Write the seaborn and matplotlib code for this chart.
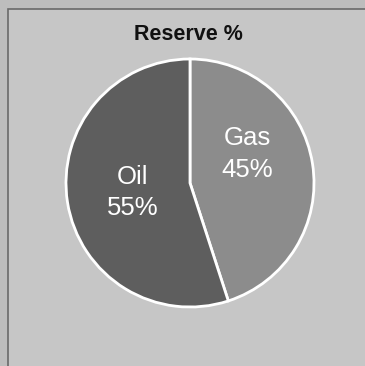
import numpy as np
import seaborn as sns
import matplotlib.pyplot as plt
from matplotlib.patches import Rectangle

labels = ["Gas", "Oil"]
shares = [45, 55]
colors = ["#8c8c8c", "#5e5e5e"]
title = "Reserve %"

sns.set_theme(style="white")
plt.rcParams["font.family"] = ["Liberation Sans", "DejaVu Sans"]

fig = plt.figure(figsize=(3.65, 3.66), dpi=100)
fig.patch.set_facecolor("#bdbdbd")
# inner panel with thin frame
fig.patches.append(Rectangle((8 / 365, -0.01), 1.0, 1 - 9 / 366 + 0.01, transform=fig.transFigure,
                             facecolor="#c6c6c6", edgecolor="#6a6a6a", linewidth=1.2, zorder=-1))

ax = fig.add_axes([(190 - 124) / 365, (366 - 183 - 124) / 366, 248 / 365, 248 / 366])
ax.set_zorder(2)
ax.set_facecolor("none")
wedges, texts, autotexts = ax.pie(shares, colors=colors, startangle=90, counterclock=False,
                                  autopct="%d%%", pctdistance=0.47,
                                  wedgeprops={"edgecolor": "white", "linewidth": 2},
                                  textprops={"color": "white", "fontsize": 18.5})
for lab, t in zip(labels, autotexts):
    t.set_text(f"{lab}\n{t.get_text()}")
    t.set_linespacing(1.38)
# Gas label sits a bit higher in the reference
x, y = autotexts[0].get_position()
autotexts[0].set_position((x, y + 0.16))
ax.set_xlim(-1, 1)
ax.set_ylim(-1, 1)
ax.set_aspect("equal")
ax.axis("off")

fig.text(188 / 365, 1 - 35 / 366, title, ha="center", va="center",
         fontsize=15.5, fontweight="bold", color="#111111", zorder=3)

fig.savefig("out.png", dpi=100, facecolor=fig.get_facecolor())
